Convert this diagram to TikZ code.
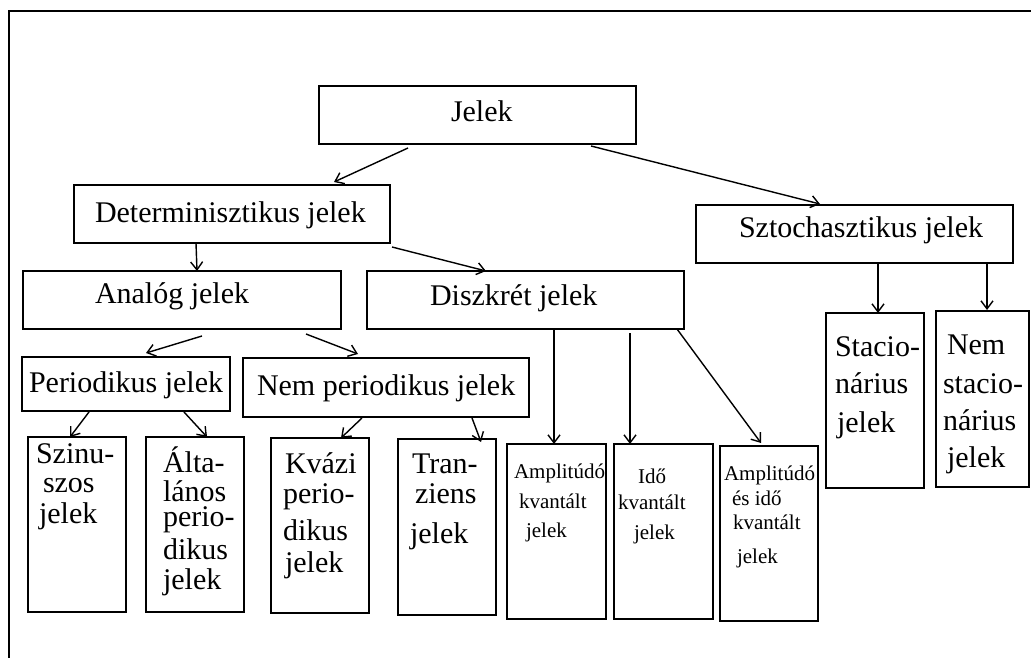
\documentclass[tikz,border=0pt]{standalone}
\usepackage{fontspec}
\setmainfont{Liberation Serif}
\usetikzlibrary{arrows.meta}
\begin{document}
\begin{tikzpicture}[x=1pt,y=-1pt,
  box/.style={draw,line width=1.9pt,rectangle,inner sep=0pt,outer sep=0pt},
  big/.style={anchor=base west,inner sep=0pt,outer sep=0pt,font=\fontsize{30}{36}\selectfont},
  sml/.style={anchor=base west,inner sep=0pt,outer sep=0pt,font=\fontsize{21}{25}\selectfont},
  arr/.style={line width=1.4pt,-{Straight Barb[length=8pt,width=12pt,line width=1.4pt]}}]
\useasboundingbox (0,0) rectangle (1031,658);

% frame (top and left edges)
\draw[line width=2pt] (9,658) -- (9,11) -- (1031,11);

% boxes
\node[box,minimum width=317pt,minimum height=58pt] (jel)  at (477.5,115) {};
\node[box,minimum width=316pt,minimum height=58pt] (det)  at (232,214) {};
\node[box,minimum width=317pt,minimum height=58pt] (szt)  at (854.5,234) {};
\node[box,minimum width=318pt,minimum height=58pt] (ana)  at (182,300) {};
\node[box,minimum width=317pt,minimum height=58pt] (dis)  at (525.5,300) {};
\node[box,minimum width=208pt,minimum height=54pt] (per)  at (126,384) {};
\node[box,minimum width=286pt,minimum height=59pt] (nper) at (386,387.5) {};
\node[box,minimum width=98pt,minimum height=175pt] (szi)  at (77,524.5) {};
\node[box,minimum width=98pt,minimum height=175pt] (alt)  at (195,524.5) {};
\node[box,minimum width=98pt,minimum height=175pt] (kva)  at (320,525.5) {};
\node[box,minimum width=98pt,minimum height=176pt] (tra)  at (447,527) {};
\node[box,minimum width=99pt,minimum height=175pt] (amp)  at (556.5,531.5) {};
\node[box,minimum width=99pt,minimum height=175pt] (ido)  at (663.5,531.5) {};
\node[box,minimum width=98pt,minimum height=175pt] (ai)   at (769,533.5) {};
\node[box,minimum width=98pt,minimum height=175pt] (sta)  at (875,400.5) {};
\node[box,minimum width=93pt,minimum height=176pt] (nsta) at (982.5,399) {};

% labels
\node[big] (tjel)  at (451,122) {Jelek};
\node[big] (tdet)  at (95,222)  {Determinisztikus jelek};
\node[big] (tszt)  at (739,237) {Sztochasztikus jelek};
\node[big] (tana)  at (95,303)  {Analóg jelek};
\node[big] (tdis)  at (430,305) {Diszkrét jelek};
\node[big] (tper)  at (29,392)  {Periodikus jelek};
\node[big] (tnper) at (257,395) {Nem periodikus jelek};

\node[big] (szi1) at (36,463) {Szinu-};
\node[big] (szi2) at (43,492) {szos};
\node[big] (szi3) at (39,523) {jelek};

\node[big] (alt1) at (163,472) {Álta-};
\node[big] (alt2) at (163,501) {lános};
\node[big] (alt3) at (163,526) {perio-};
\node[big] (alt4) at (163,559) {dikus};
\node[big] (alt5) at (163,589) {jelek};

\node[big] (kva1) at (285,473) {Kvázi};
\node[big] (kva2) at (283,503) {perio-};
\node[big] (kva3) at (283,540) {dikus};
\node[big] (kva4) at (285,572) {jelek};

\node[big] (tra1) at (412,473) {Tran-};
\node[big] (tra2) at (415,503) {ziens};
\node[big] (tra3) at (410,543) {jelek};

\node[sml] (amp1) at (514,478) {Amplitúdó};
\node[sml] (amp2) at (519,508) {kvantált};
\node[sml] (amp3) at (526,537) {jelek};

\node[sml] (ido1) at (638,483) {Idő};
\node[sml] (ido2) at (618,509) {kvantált};
\node[sml] (ido3) at (634,539) {jelek};

\node[sml] (ai1) at (724,480) {Amplitúdó};
\node[sml] (ai2) at (732,505) {és idő};
\node[sml] (ai3) at (733,529) {kvantált};
\node[sml] (ai4) at (737,563) {jelek};

\node[big] (sta1) at (835,356) {Stacio-};
\node[big] (sta2) at (835,393) {nárius};
\node[big] (sta3) at (837,432) {jelek};

\node[big] (nsta1) at (947,354) {Nem};
\node[big] (nsta2) at (943,393) {stacio-};
\node[big] (nsta3) at (943,430) {nárius};
\node[big] (nsta4) at (947,467) {jelek};

% connectors
\draw[arr] ([xshift=-69.5pt,yshift=-4pt]jel.south) -- ([xshift=102pt,yshift=3pt]det.north);
\draw[arr] ([xshift=113.5pt,yshift=-2pt]jel.south) -- ([xshift=-34.5pt,yshift=1pt]szt.north);
\draw[arr] ([xshift=-36pt]det.south) -- ([xshift=15pt]ana.north);
\draw[arr] ([xshift=2pt,yshift=-4pt]det.south east) -- ([xshift=-39.5pt]dis.north);
\draw[arr] ([xshift=20pt,yshift=-7pt]ana.south) -- ([xshift=20pt,yshift=4pt]per.north);
\draw[arr] ([xshift=124pt,yshift=-5pt]ana.south) -- ([xshift=-28pt,yshift=4pt]nper.north);
\draw[arr] ([xshift=-37pt,yshift=-1pt]per.south) -- ([xshift=-7pt]szi.north);
\draw[arr] ([xshift=58pt,yshift=-1pt]per.south) -- ([xshift=12pt]alt.north);
\draw[arr] ([xshift=-24pt,yshift=-1pt]nper.south) -- ([xshift=21pt]kva.north);
\draw[arr] ([xshift=86pt,yshift=-1pt]nper.south) -- ([xshift=34pt,yshift=-3pt]tra.north);
\draw[arr] ([xshift=28.5pt]dis.south) -- ([xshift=-2.5pt]amp.north);
\draw[arr] ([xshift=104.5pt,yshift=-4pt]dis.south) -- ([xshift=-33.5pt]ido.north);
\draw[arr] ([xshift=-7pt]dis.south east) -- ([xshift=-8pt,yshift=3pt]ai.north);
\draw[arr] ([xshift=23.5pt]szt.south) -- ([xshift=3pt]sta.north);
\draw[arr] ([xshift=132.5pt]szt.south) -- ([xshift=4.5pt,yshift=1pt]nsta.north);
\end{tikzpicture}
\end{document}
